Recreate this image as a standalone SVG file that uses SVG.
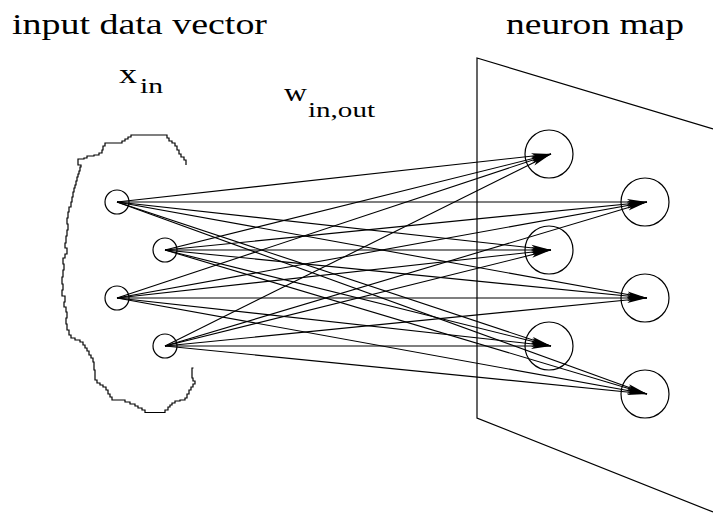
<svg xmlns="http://www.w3.org/2000/svg" width="713" height="513" viewBox="0 0 713 513">
<style>
.t{font-family:"Liberation Serif","Times New Roman",serif;fill:#000}
.ln{fill:none;stroke:#000;stroke-width:1.2}
.nd{fill:none;stroke:#000;stroke-width:1.2}
.ar{fill:none;stroke:#000;stroke-width:1.1;marker-end:url(#ah)}
</style>
<defs>
<marker id="ah" markerUnits="userSpaceOnUse" markerWidth="22" markerHeight="8" refX="20" refY="3.5" orient="auto">
<path d="M0,0.5 L20,3.5 L0,6.5 L4,3.5 Z" fill="#000"/>
</marker>
</defs>
<rect width="713" height="513" fill="#fff"/>
<text class="t" x="12" y="33.5" font-size="30" textLength="255" lengthAdjust="spacingAndGlyphs">input data vector</text>
<text class="t" x="506" y="33.5" font-size="30" textLength="178" lengthAdjust="spacingAndGlyphs">neuron map</text>
<text class="t" x="119" y="83" font-size="28" textLength="18" lengthAdjust="spacingAndGlyphs">x</text>
<text class="t" x="140" y="93" font-size="22" textLength="23" lengthAdjust="spacingAndGlyphs">in</text>
<text class="t" x="284" y="101" font-size="26" textLength="23" lengthAdjust="spacingAndGlyphs">w</text>
<text class="t" x="308" y="117" font-size="21" textLength="67" lengthAdjust="spacingAndGlyphs">in,out</text>
<g id="blob">
<path class="ln" d="M186,165 V160 H184 V157 H181 V154 H179 V150 H177 V146 H175 V143 H172 V141 H169 V138 H167 V135 H131 V137 H128 V139 H125 V141 H122 V143 H105 V146 H103 V150 H102 V153 H99 V155 H94 V156 H87 V158 H84 V159 H78 V165 H81 V167 H80 V171 H79 V174 H78 V177 H77 V181 H76 V185 H75 V188 H74 V192 H73 V197 H72 V202 H71 V207 H69 V212 H68 V218 H67 V224 H68 V230 H67 V236 H66 V243 H65 V248 H67 V254 H65 V258 H63 V264 H64 V270 H63 V277 H62 V284 H63 V290 H62 V296 H65 V302 H64 V307 H66 V312 H67 V318 H66 V324 H67 V330 H69 V335 H71 V338 H75 V340 H80 V342 H83 V345 H85 V348 H87 V351 H89 V355 H91 V358 H93 V362 H94 V370 H95 V380 H97 V383 H100 V385 H103 V387 H106 V390 H108 V394 H110 V397 H112 V400 H125 V402 H130 V404 H135 V406 H138 V408 H142 V410 H145 V412.5 H165 V410 H168 V407 H170 V405 H172 V403 H175 V401 H180 V400 H185 V398 H187 V394 H189 V390 H191 V387 H193 V384 H195 V381 H193 V378 H192 V368 H193.5"/>
</g>
<g id="plane">
<path class="ln" d="M713,129 L477,58 L477,418 L713,512"/>
</g>
<g id="in1"><circle class="nd" cx="117" cy="202" r="12"/></g>
<g id="in2"><circle class="nd" cx="165" cy="250" r="12"/></g>
<g id="in3"><circle class="nd" cx="117" cy="298" r="12"/></g>
<g id="in4"><circle class="nd" cx="165" cy="346" r="12"/></g>
<g id="out1"><circle class="nd" cx="549" cy="154" r="24"/></g>
<g id="out2"><circle class="nd" cx="645" cy="202" r="24"/></g>
<g id="out3"><circle class="nd" cx="549" cy="250" r="24"/></g>
<g id="out4"><circle class="nd" cx="645" cy="298" r="24"/></g>
<g id="out5"><circle class="nd" cx="549" cy="346" r="24"/></g>
<g id="out6"><circle class="nd" cx="645" cy="394" r="24"/></g>
<g id="connectors">
<line class="ar" x1="117" y1="202" x2="551" y2="154"/>
<line class="ar" x1="117" y1="202" x2="647" y2="202"/>
<line class="ar" x1="117" y1="202" x2="551" y2="250"/>
<line class="ar" x1="117" y1="202" x2="647" y2="298"/>
<line class="ar" x1="117" y1="202" x2="551" y2="346"/>
<line class="ar" x1="117" y1="202" x2="647" y2="394"/>
<line class="ar" x1="165" y1="250" x2="551" y2="154"/>
<line class="ar" x1="165" y1="250" x2="647" y2="202"/>
<line class="ar" x1="165" y1="250" x2="551" y2="250"/>
<line class="ar" x1="165" y1="250" x2="647" y2="298"/>
<line class="ar" x1="165" y1="250" x2="551" y2="346"/>
<line class="ar" x1="165" y1="250" x2="647" y2="394"/>
<line class="ar" x1="117" y1="298" x2="551" y2="154"/>
<line class="ar" x1="117" y1="298" x2="647" y2="202"/>
<line class="ar" x1="117" y1="298" x2="551" y2="250"/>
<line class="ar" x1="117" y1="298" x2="647" y2="298"/>
<line class="ar" x1="117" y1="298" x2="551" y2="346"/>
<line class="ar" x1="117" y1="298" x2="647" y2="394"/>
<line class="ar" x1="165" y1="346" x2="551" y2="154"/>
<line class="ar" x1="165" y1="346" x2="647" y2="202"/>
<line class="ar" x1="165" y1="346" x2="551" y2="250"/>
<line class="ar" x1="165" y1="346" x2="647" y2="298"/>
<line class="ar" x1="165" y1="346" x2="551" y2="346"/>
<line class="ar" x1="165" y1="346" x2="647" y2="394"/>
</g>
</svg>
